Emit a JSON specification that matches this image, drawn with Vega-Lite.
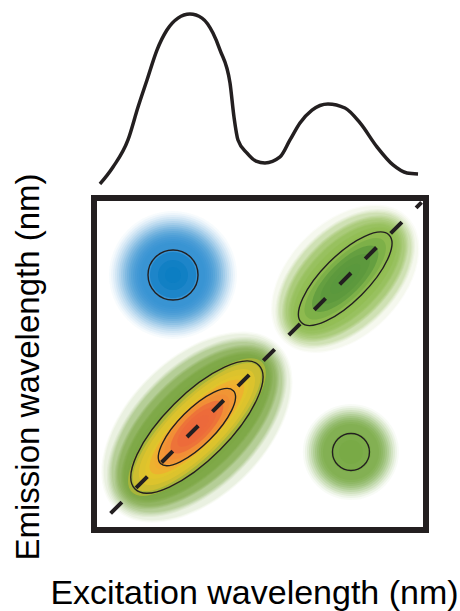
{
  "$schema": "https://vega.github.io/schema/vega-lite/v6.json",
  "width": 332,
  "height": 332,
  "autosize": "none",
  "padding": {"left": 94, "top": 198, "right": 34, "bottom": 81},
  "background": "white",
  "config": {
    "view": {"stroke": "#231f20", "strokeWidth": 6},
    "axis": {"titleFont": "Liberation Sans", "titleFontWeight": "normal", "titleColor": "#000000"}
  },
  "datasets": {
    "rings": [
      {"peak": "P1", "ex": 321.4, "em": 480.4, "form": "round", "extent": 57.8, "level": 0.04, "tone": "azure"},
      {"peak": "P1", "ex": 321.4, "em": 480.4, "form": "round", "extent": 56.0, "level": 0.05, "tone": "azure"},
      {"peak": "P1", "ex": 321.4, "em": 480.4, "form": "round", "extent": 54.2, "level": 0.065, "tone": "azure"},
      {"peak": "P1", "ex": 321.4, "em": 480.4, "form": "round", "extent": 52.4, "level": 0.08, "tone": "azure"},
      {"peak": "P1", "ex": 321.4, "em": 480.4, "form": "round", "extent": 50.6, "level": 0.095, "tone": "azure"},
      {"peak": "P1", "ex": 321.4, "em": 480.4, "form": "round", "extent": 48.8, "level": 0.11, "tone": "azure"},
      {"peak": "P1", "ex": 321.4, "em": 480.4, "form": "round", "extent": 47.0, "level": 0.13, "tone": "azure"},
      {"peak": "P1", "ex": 321.4, "em": 480.4, "form": "round", "extent": 45.2, "level": 0.15, "tone": "azure"},
      {"peak": "P1", "ex": 321.4, "em": 480.4, "form": "round", "extent": 43.4, "level": 0.17, "tone": "azure"},
      {"peak": "P1", "ex": 321.4, "em": 480.4, "form": "round", "extent": 41.6, "level": 0.19, "tone": "azure"},
      {"peak": "P1", "ex": 321.4, "em": 480.4, "form": "round", "extent": 39.8, "level": 0.21, "tone": "azure"},
      {"peak": "P1", "ex": 321.4, "em": 480.4, "form": "round", "extent": 38.0, "level": 0.23, "tone": "azure"},
      {"peak": "P1", "ex": 321.4, "em": 480.4, "form": "round", "extent": 36.1, "level": 0.25, "tone": "azure"},
      {"peak": "P1", "ex": 321.4, "em": 480.4, "form": "round", "extent": 34.3, "level": 0.27, "tone": "azure"},
      {"peak": "P1", "ex": 321.4, "em": 480.4, "form": "round", "extent": 32.5, "level": 0.29, "tone": "azure"},
      {"peak": "P1", "ex": 321.4, "em": 480.4, "form": "round", "extent": 30.7, "level": 0.31, "tone": "azure"},
      {"peak": "P1", "ex": 321.4, "em": 480.4, "form": "round", "extent": 28.9, "level": 0.33, "tone": "azure"},
      {"peak": "P1", "ex": 321.4, "em": 480.4, "form": "round", "extent": 20.8, "level": 0.5, "tone": "cobalt"},
      {"peak": "P1", "ex": 321.4, "em": 480.4, "form": "round", "extent": 13.6, "level": 0.7, "tone": "cobalt"},
      {"peak": "P1", "ex": 321.4, "em": 480.4, "form": "round", "extent": 7.2, "level": 0.9, "tone": "cobalt"},

      {"peak": "P2", "ex": 477, "em": 477, "form": "o65", "extent": 79.5, "level": 0.04, "tone": "lime"},
      {"peak": "P2", "ex": 477, "em": 477, "form": "o65", "extent": 78.1, "level": 0.055, "tone": "lime"},
      {"peak": "P2", "ex": 477, "em": 477, "form": "o60", "extent": 76.6, "level": 0.07, "tone": "lime"},
      {"peak": "P2", "ex": 477, "em": 477, "form": "o60", "extent": 75.2, "level": 0.09, "tone": "lime"},
      {"peak": "P2", "ex": 477, "em": 477, "form": "o60", "extent": 73.7, "level": 0.11, "tone": "lime"},
      {"peak": "P2", "ex": 477, "em": 477, "form": "o60", "extent": 72.3, "level": 0.13, "tone": "lime"},
      {"peak": "P2", "ex": 477, "em": 477, "form": "o55", "extent": 70.8, "level": 0.15, "tone": "lime"},
      {"peak": "P2", "ex": 477, "em": 477, "form": "o55", "extent": 69.4, "level": 0.17, "tone": "lime"},
      {"peak": "P2", "ex": 477, "em": 477, "form": "o55", "extent": 68.0, "level": 0.19, "tone": "lime"},
      {"peak": "P2", "ex": 477, "em": 477, "form": "o55", "extent": 66.5, "level": 0.21, "tone": "lime"},
      {"peak": "P2", "ex": 477, "em": 477, "form": "o50", "extent": 65.1, "level": 0.23, "tone": "lime"},
      {"peak": "P2", "ex": 477, "em": 477, "form": "o50", "extent": 63.6, "level": 0.25, "tone": "lime"},
      {"peak": "P2", "ex": 477, "em": 477, "form": "o50", "extent": 62.2, "level": 0.27, "tone": "lime"},
      {"peak": "P2", "ex": 477, "em": 477, "form": "o45", "extent": 60.7, "level": 0.29, "tone": "lime"},
      {"peak": "P2", "ex": 477, "em": 477, "form": "o45", "extent": 59.3, "level": 0.31, "tone": "lime"},
      {"peak": "P2", "ex": 477, "em": 477, "form": "o40", "extent": 57.8, "level": 0.33, "tone": "lime"},
      {"peak": "P2", "ex": 477, "em": 477, "form": "o37", "extent": 56.0, "level": 0.4, "tone": "lime"},
      {"peak": "P2", "ex": 477, "em": 477, "form": "o37", "extent": 48.8, "level": 0.55, "tone": "leaf"},
      {"peak": "P2", "ex": 477, "em": 477, "form": "o37", "extent": 39.8, "level": 0.7, "tone": "forest"},
      {"peak": "P2", "ex": 477, "em": 477, "form": "o37", "extent": 29.8, "level": 0.85, "tone": "forest"},
      {"peak": "P2", "ex": 477, "em": 477, "form": "o37", "extent": 18.1, "level": 0.95, "tone": "forest"},

      {"peak": "P3", "ex": 343, "em": 343, "form": "o60", "extent": 104.8, "level": 0.04, "tone": "moss"},
      {"peak": "P3", "ex": 343, "em": 343, "form": "o60", "extent": 103.5, "level": 0.05, "tone": "moss"},
      {"peak": "P3", "ex": 343, "em": 343, "form": "o60", "extent": 102.1, "level": 0.065, "tone": "moss"},
      {"peak": "P3", "ex": 343, "em": 343, "form": "o55", "extent": 100.8, "level": 0.08, "tone": "moss"},
      {"peak": "P3", "ex": 343, "em": 343, "form": "o55", "extent": 99.4, "level": 0.095, "tone": "moss"},
      {"peak": "P3", "ex": 343, "em": 343, "form": "o55", "extent": 98.0, "level": 0.11, "tone": "moss"},
      {"peak": "P3", "ex": 343, "em": 343, "form": "o55", "extent": 96.7, "level": 0.13, "tone": "moss"},
      {"peak": "P3", "ex": 343, "em": 343, "form": "o55", "extent": 95.3, "level": 0.15, "tone": "moss"},
      {"peak": "P3", "ex": 343, "em": 343, "form": "o50", "extent": 94.0, "level": 0.17, "tone": "moss"},
      {"peak": "P3", "ex": 343, "em": 343, "form": "o50", "extent": 92.6, "level": 0.19, "tone": "moss"},
      {"peak": "P3", "ex": 343, "em": 343, "form": "o50", "extent": 91.3, "level": 0.21, "tone": "moss"},
      {"peak": "P3", "ex": 343, "em": 343, "form": "o50", "extent": 89.9, "level": 0.23, "tone": "moss"},
      {"peak": "P3", "ex": 343, "em": 343, "form": "o45", "extent": 88.6, "level": 0.25, "tone": "moss"},
      {"peak": "P3", "ex": 343, "em": 343, "form": "o45", "extent": 87.2, "level": 0.27, "tone": "moss"},
      {"peak": "P3", "ex": 343, "em": 343, "form": "o45", "extent": 85.8, "level": 0.29, "tone": "moss"},
      {"peak": "P3", "ex": 343, "em": 343, "form": "o45", "extent": 84.5, "level": 0.31, "tone": "moss"},
      {"peak": "P3", "ex": 343, "em": 343, "form": "o40", "extent": 83.1, "level": 0.33, "tone": "moss"},
      {"peak": "P3", "ex": 343, "em": 343, "form": "o35", "extent": 83.1, "level": 0.38, "tone": "citron"},
      {"peak": "P3", "ex": 343, "em": 343, "form": "o33", "extent": 77.7, "level": 0.44, "tone": "yellow"},
      {"peak": "P3", "ex": 343, "em": 343, "form": "o33", "extent": 70.5, "level": 0.5, "tone": "yellow"},
      {"peak": "P3", "ex": 343, "em": 343, "form": "o30", "extent": 63.3, "level": 0.55, "tone": "yellow"},
      {"peak": "P3", "ex": 343, "em": 343, "form": "o30", "extent": 57.8, "level": 0.6, "tone": "amber"},
      {"peak": "P3", "ex": 343, "em": 343, "form": "o33", "extent": 51.5, "level": 0.65, "tone": "amber"},
      {"peak": "P3", "ex": 343, "em": 343, "form": "o35", "extent": 45.2, "level": 0.7, "tone": "orange"},
      {"peak": "P3", "ex": 343, "em": 343, "form": "o37", "extent": 38.9, "level": 0.76, "tone": "orange"},
      {"peak": "P3", "ex": 343, "em": 343, "form": "o37", "extent": 31.6, "level": 0.82, "tone": "vermilion"},
      {"peak": "P3", "ex": 343, "em": 343, "form": "o37", "extent": 23.5, "level": 0.9, "tone": "vermilion"},
      {"peak": "P3", "ex": 343, "em": 343, "form": "o37", "extent": 14.5, "level": 0.97, "tone": "vermilion"},

      {"peak": "P4", "ex": 482.2, "em": 320.5, "form": "round", "extent": 43.4, "level": 0.05, "tone": "grass"},
      {"peak": "P4", "ex": 482.2, "em": 320.5, "form": "round", "extent": 41.6, "level": 0.08, "tone": "grass"},
      {"peak": "P4", "ex": 482.2, "em": 320.5, "form": "round", "extent": 39.8, "level": 0.11, "tone": "grass"},
      {"peak": "P4", "ex": 482.2, "em": 320.5, "form": "round", "extent": 38.0, "level": 0.14, "tone": "grass"},
      {"peak": "P4", "ex": 482.2, "em": 320.5, "form": "round", "extent": 36.1, "level": 0.17, "tone": "grass"},
      {"peak": "P4", "ex": 482.2, "em": 320.5, "form": "round", "extent": 34.3, "level": 0.2, "tone": "grass"},
      {"peak": "P4", "ex": 482.2, "em": 320.5, "form": "round", "extent": 32.5, "level": 0.23, "tone": "grass"},
      {"peak": "P4", "ex": 482.2, "em": 320.5, "form": "round", "extent": 30.7, "level": 0.26, "tone": "grass"},
      {"peak": "P4", "ex": 482.2, "em": 320.5, "form": "round", "extent": 28.9, "level": 0.29, "tone": "grass"},
      {"peak": "P4", "ex": 482.2, "em": 320.5, "form": "round", "extent": 27.1, "level": 0.32, "tone": "grass"},
      {"peak": "P4", "ex": 482.2, "em": 320.5, "form": "round", "extent": 25.3, "level": 0.33, "tone": "grass"},
      {"peak": "P4", "ex": 482.2, "em": 320.5, "form": "round", "extent": 18.1, "level": 0.5, "tone": "grass"},
      {"peak": "P4", "ex": 482.2, "em": 320.5, "form": "round", "extent": 10.8, "level": 0.8, "tone": "grass"}
    ],
    "contours": [
      {"peak": "P1", "ex": 321.4, "em": 480.4, "form": "round", "extent": 22.6},
      {"peak": "P2", "ex": 477, "em": 477, "form": "o37", "extent": 56.0},
      {"peak": "P3", "ex": 343, "em": 343, "form": "o37", "extent": 79.1},
      {"peak": "P3", "ex": 343, "em": 343, "form": "o35", "extent": 46.5},
      {"peak": "P4", "ex": 482.2, "em": 320.5, "form": "round", "extent": 16.7}
    ],
    "diagonal": [
      {"ex": 265, "em": 265},
      {"ex": 546, "em": 546}
    ],
    "spectrum": [
      {"ex": 255.4, "intensity": 0},
      {"ex": 267.2, "intensity": 0.1},
      {"ex": 280.7, "intensity": 0.259},
      {"ex": 289.8, "intensity": 0.453},
      {"ex": 297.9, "intensity": 0.612},
      {"ex": 306.9, "intensity": 0.788},
      {"ex": 315.9, "intensity": 0.906},
      {"ex": 325.9, "intensity": 0.976},
      {"ex": 336.7, "intensity": 1},
      {"ex": 347.6, "intensity": 0.976},
      {"ex": 357.5, "intensity": 0.888},
      {"ex": 363.9, "intensity": 0.788},
      {"ex": 372.9, "intensity": 0.594},
      {"ex": 376.5, "intensity": 0.394},
      {"ex": 380.1, "intensity": 0.259},
      {"ex": 388.3, "intensity": 0.182},
      {"ex": 396.4, "intensity": 0.135},
      {"ex": 404.5, "intensity": 0.124},
      {"ex": 418.1, "intensity": 0.159},
      {"ex": 427.1, "intensity": 0.259},
      {"ex": 436.1, "intensity": 0.359},
      {"ex": 447.0, "intensity": 0.435},
      {"ex": 461.4, "intensity": 0.471},
      {"ex": 476.8, "intensity": 0.447},
      {"ex": 490.4, "intensity": 0.359},
      {"ex": 505.7, "intensity": 0.218},
      {"ex": 520.2, "intensity": 0.112},
      {"ex": 532.8, "intensity": 0.065},
      {"ex": 542.8, "intensity": 0.059}
    ]
  },
  "layer": [
    {
      "layer": [
        {
          "data": {"name": "rings"},
          "mark": {"type": "point", "filled": true, "strokeWidth": 0, "angle": 315, "clip": true},
          "encoding": {
            "x": {"field": "ex", "type": "quantitative", "scale": {"domain": [250, 550], "nice": false, "zero": false},
                  "axis": {"title": "Excitation wavelength (nm)", "domain": false, "ticks": false, "labels": false, "grid": false,
                           "titleFontSize": 34, "titleX": 160, "titleY": 73, "titleBaseline": "alphabetic", "titleAlign": "center"}},
            "y": {"field": "em", "type": "quantitative", "scale": {"domain": [250, 550], "nice": false, "zero": false},
                  "axis": {"title": "Emission wavelength (nm)", "orient": "left", "domain": false, "ticks": false, "labels": false, "grid": false,
                           "titleFontSize": 33, "titleX": -56, "titleY": 168.5, "titleAngle": 270, "titleBaseline": "alphabetic", "titleAlign": "center"}},
            "size": {"field": "extent", "type": "quantitative", "scale": {"type": "pow", "exponent": 2, "domain": [0, 100], "range": [0, 48987]}, "legend": null},
            "shape": {"field": "form", "type": "nominal", "legend": null,
              "scale": {
                "domain": ["round", "o30", "o33", "o35", "o37", "o40", "o45", "o50", "o55", "o60", "o65"],
                "range": [
                  "M1,0C1,0.552 0.552,1 0,1C-0.552,1 -1,0.552 -1,0C-1,-0.552 -0.552,-1 0,-1C0.552,-1 1,-0.552 1,0Z",
                  "M1,0C1,0.166 0.552,0.3 0,0.3C-0.552,0.3 -1,0.166 -1,0C-1,-0.166 -0.552,-0.3 0,-0.3C0.552,-0.3 1,-0.166 1,0Z",
                  "M1,0C1,0.182 0.552,0.33 0,0.33C-0.552,0.33 -1,0.182 -1,0C-1,-0.182 -0.552,-0.33 0,-0.33C0.552,-0.33 1,-0.182 1,0Z",
                  "M1,0C1,0.193 0.552,0.35 0,0.35C-0.552,0.35 -1,0.193 -1,0C-1,-0.193 -0.552,-0.35 0,-0.35C0.552,-0.35 1,-0.193 1,0Z",
                  "M1,0C1,0.204 0.552,0.37 0,0.37C-0.552,0.37 -1,0.204 -1,0C-1,-0.204 -0.552,-0.37 0,-0.37C0.552,-0.37 1,-0.204 1,0Z",
                  "M1,0C1,0.221 0.552,0.4 0,0.4C-0.552,0.4 -1,0.221 -1,0C-1,-0.221 -0.552,-0.4 0,-0.4C0.552,-0.4 1,-0.221 1,0Z",
                  "M1,0C1,0.249 0.552,0.45 0,0.45C-0.552,0.45 -1,0.249 -1,0C-1,-0.249 -0.552,-0.45 0,-0.45C0.552,-0.45 1,-0.249 1,0Z",
                  "M1,0C1,0.276 0.552,0.5 0,0.5C-0.552,0.5 -1,0.276 -1,0C-1,-0.276 -0.552,-0.5 0,-0.5C0.552,-0.5 1,-0.276 1,0Z",
                  "M1,0C1,0.304 0.552,0.55 0,0.55C-0.552,0.55 -1,0.304 -1,0C-1,-0.304 -0.552,-0.55 0,-0.55C0.552,-0.55 1,-0.304 1,0Z",
                  "M1,0C1,0.331 0.552,0.6 0,0.6C-0.552,0.6 -1,0.331 -1,0C-1,-0.331 -0.552,-0.6 0,-0.6C0.552,-0.6 1,-0.331 1,0Z",
                  "M1,0C1,0.359 0.552,0.65 0,0.65C-0.552,0.65 -1,0.359 -1,0C-1,-0.359 -0.552,-0.65 0,-0.65C0.552,-0.65 1,-0.359 1,0Z"
                ]}},
            "color": {"field": "tone", "type": "nominal", "legend": null,
              "scale": {
                "domain": ["azure", "cobalt", "grass", "lime", "leaf", "forest", "moss", "citron", "yellow", "amber", "orange", "vermilion"],
                "range": ["#3391D2", "#0B7DC2", "#78AA45", "#8DBA4D", "#74A944", "#5A973D", "#7AA63F", "#C9BF31", "#E6C52B", "#F3A931", "#F18B37", "#EC693B"]}},
            "opacity": {"field": "level", "type": "quantitative", "legend": null,
              "scale": {"domain": [0, 0.33, 0.34, 1], "range": [0, 0.33, 0.55, 0.8]}}
          }
        },
        {
          "data": {"name": "diagonal"},
          "mark": {"type": "line", "color": "#231f20", "strokeWidth": 4, "strokeDash": [16, 20], "strokeCap": "butt"},
          "encoding": {
            "x": {"field": "ex", "type": "quantitative", "scale": {"domain": [250, 550], "nice": false, "zero": false}},
            "y": {"field": "em", "type": "quantitative", "scale": {"domain": [250, 550], "nice": false, "zero": false}}
          }
        },
        {
          "data": {"name": "contours"},
          "mark": {"type": "point", "filled": false, "stroke": "#231f20", "strokeWidth": 1.4, "angle": 315, "opacity": 1},
          "encoding": {
            "x": {"field": "ex", "type": "quantitative", "scale": {"domain": [250, 550], "nice": false, "zero": false}},
            "y": {"field": "em", "type": "quantitative", "scale": {"domain": [250, 550], "nice": false, "zero": false}},
            "size": {"field": "extent", "type": "quantitative", "scale": {"type": "pow", "exponent": 2, "domain": [0, 100], "range": [0, 48987]}, "legend": null},
            "shape": {"field": "form", "type": "nominal", "legend": null}
          }
        }
      ]
    },
    {
      "data": {"name": "spectrum"},
      "mark": {"type": "line", "color": "#231f20", "strokeWidth": 3.5, "interpolate": "monotone", "clip": false},
      "encoding": {
        "x": {"field": "ex", "type": "quantitative", "scale": {"domain": [250, 550], "nice": false, "zero": false}},
        "y": {"field": "intensity", "type": "quantitative", "scale": {"domain": [0, 1], "range": [-14, -184], "nice": false, "zero": false}, "axis": null}
      }
    }
  ],
  "resolve": {"scale": {"y": "independent"}, "axis": {"y": "independent"}}
}
